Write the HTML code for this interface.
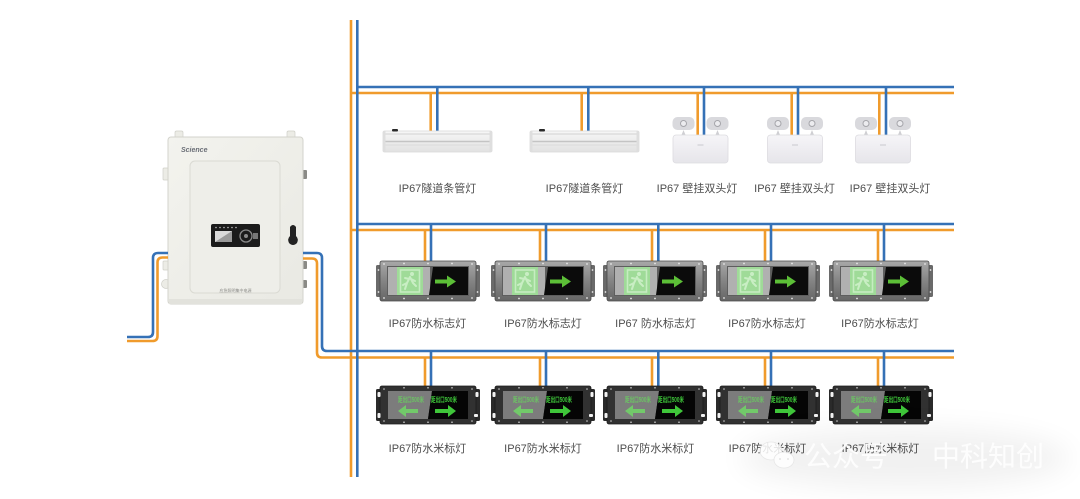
<!DOCTYPE html>
<html><head><meta charset="utf-8">
<style>
html,body{margin:0;padding:0;background:#fff;}
svg{display:block;}
text{font-family:"Liberation Sans","Noto Sans CJK SC",sans-serif;}
</style></head><body>
<svg width="1080" height="499" viewBox="0 0 1080 499" xmlns="http://www.w3.org/2000/svg">
<defs>
 <linearGradient id="metal" x1="0" y1="0" x2="0" y2="1">
  <stop offset="0" stop-color="#a8a8a8"/><stop offset=".5" stop-color="#848484"/><stop offset="1" stop-color="#666"/>
 </linearGradient>
 <linearGradient id="tubeG" x1="0" y1="0" x2="0" y2="1">
  <stop offset="0" stop-color="#f7f7f7"/><stop offset=".5" stop-color="#ececec"/><stop offset="1" stop-color="#e2e2e2"/>
 </linearGradient>
 <linearGradient id="boxG" x1="0" y1="0" x2="0" y2="1">
  <stop offset="0" stop-color="#f6f5f8"/><stop offset="1" stop-color="#e6e5ea"/>
 </linearGradient>
 <linearGradient id="cabG" x1="0" y1="0" x2="1" y2="1">
  <stop offset="0" stop-color="#f3f3ee"/><stop offset="1" stop-color="#e9e9e3"/>
 </linearGradient>
 <filter id="blur" x="-50%" y="-50%" width="200%" height="200%"><feGaussianBlur stdDeviation="14"/></filter>

 <g id="exA">
  <rect x="0" y="4" width="8" height="32" rx="1.5" fill="#6a6a6a"/>
  <rect x="96" y="4" width="8" height="32" rx="1.5" fill="#6a6a6a"/>
  <rect x="4" y="0" width="96" height="40" rx="2" fill="url(#metal)" stroke="#4a4a4a" stroke-width=".8"/>
  <rect x="11" y="5" width="82" height="30" fill="#5e5e5e"/>
  <rect x="12" y="6" width="42" height="28" fill="#b0b0b0"/>
  <rect x="21" y="6" width="26" height="28" fill="#9fdb98"/>
  <rect x="24.5" y="9" width="19" height="22" fill="none" stroke="#c6ecc1" stroke-width="1.6"/>
  <circle cx="36" cy="13" r="2" fill="#c9eec4"/>
  <path d="M34 16 L31 22 L27 24 M34 16 L37 22 L40 25 M33 18 L29 17 M35 18 L39 20 M31 22 L29 28" stroke="#c9eec4" stroke-width="2" fill="none" stroke-linecap="round"/>
  <polygon points="57,6 92,6 92,34 53,34" fill="#0b0b0b"/>
  <polygon points="59,18.5 71,18.5 71,14.5 80,20.5 71,26.5 71,22.5 59,22.5" fill="#5cbf37"/>
  <g fill="#e8e8e8">
   <circle cx="8" cy="3" r=".9"/><circle cx="8" cy="37" r=".9"/><circle cx="96" cy="3" r=".9"/><circle cx="96" cy="37" r=".9"/>
   <circle cx="28" cy="2.5" r=".9"/><circle cx="52" cy="2.5" r=".9"/><circle cx="76" cy="2.5" r=".9"/>
   <circle cx="28" cy="37.5" r=".9"/><circle cx="52" cy="37.5" r=".9"/><circle cx="76" cy="37.5" r=".9"/>
   <circle cx="2.5" cy="9" r=".9"/><circle cx="2.5" cy="31" r=".9"/><circle cx="101.5" cy="9" r=".9"/><circle cx="101.5" cy="31" r=".9"/>
  </g>
 </g>

 <g id="exB">
  <rect x="0" y="3" width="8" height="32" rx="1.5" fill="#2a2a2a"/>
  <rect x="96" y="3" width="8" height="32" rx="1.5" fill="#2a2a2a"/>
  <rect x="4" y="0" width="96" height="38" rx="2" fill="#313131" stroke="#1c1c1c" stroke-width=".8"/>
  <polygon points="12,5 56,5 52,33 12,33" fill="#7c7c7c"/>
  <polygon points="56,5 92,5 92,33 52,33" fill="#050505"/>
  <polygon points="22,25 30,19 30,23 42,23 42,27 30,27 30,31" fill="#72c96a"/>
  <polygon points="80,25 72,19 72,23 59,23 59,27 72,27 72,31" fill="#3fc63a"/>
  <g fill="#f2f2f2">
   <rect x="1.5" y="6" width="3" height="5" rx="1"/><rect x="1.5" y="27" width="3" height="5" rx="1"/>
   <rect x="99.5" y="6" width="3" height="5" rx="1"/><rect x="98" y="28" width="4" height="3" rx="1"/>
  </g>
  <g fill="#cfcfcf">
   <circle cx="28" cy="1.8" r=".8"/><circle cx="52" cy="1.8" r=".8"/><circle cx="76" cy="1.8" r=".8"/>
   <circle cx="28" cy="36.2" r=".8"/><circle cx="52" cy="36.2" r=".8"/><circle cx="76" cy="36.2" r=".8"/>
   <circle cx="8" cy="3" r=".8"/><circle cx="96" cy="3" r=".8"/><circle cx="8" cy="35" r=".8"/><circle cx="96" cy="35" r=".8"/>
  </g>
 </g>

 <g id="tubeL">
  <rect x="0" y="1" width="109" height="21" rx="1.5" fill="url(#tubeG)" stroke="#d9d9d9" stroke-width=".8"/>
  <line x1="1" y1="4" x2="108" y2="4" stroke="#d2d2d2" stroke-width="1"/>
  <line x1="1" y1="11.5" x2="108" y2="11.5" stroke="#c4c4c4" stroke-width="1.4"/>
  <line x1="1" y1="15" x2="108" y2="15" stroke="#dadada" stroke-width="1"/>
  <rect x="0" y="1" width="2.5" height="21" fill="#dedede"/>
  <rect x="106.5" y="1" width="2.5" height="21" fill="#dedede"/>
  <rect x="9" y="-1" width="6" height="2.5" rx="1" fill="#2a2a2a"/>
 </g>

 <g id="wallL">
  <rect x="0" y="0" width="22" height="13" rx="5" fill="#d9d9dd"/>
  <circle cx="11" cy="6.5" r="3" fill="#ececef" stroke="#a5a5aa" stroke-width="1"/>
  <rect x="34" y="0" width="22" height="13" rx="5" fill="#d9d9dd"/>
  <circle cx="45" cy="6.5" r="3" fill="#ececef" stroke="#a5a5aa" stroke-width="1"/>
  <polygon points="9,18 11,13 13,18" fill="#cfcfd3"/>
  <polygon points="43,18 45,13 47,18" fill="#cfcfd3"/>
  <rect x="0.5" y="18" width="55" height="28" rx="3" fill="url(#boxG)" stroke="#dcdbe0" stroke-width=".8"/>
  <line x1="25" y1="28" x2="31" y2="28" stroke="#c9c8ce" stroke-width="1"/>
 </g>
</defs>

<!-- ========== Cabinet ========== -->
<g>
 <rect x="175" y="131" width="8" height="8" rx="1.5" fill="#ecece6" stroke="#cfcfc8" stroke-width=".7"/>
 <rect x="287" y="131" width="8" height="8" rx="1.5" fill="#ecece6" stroke="#cfcfc8" stroke-width=".7"/>
 <rect x="163" y="168" width="6" height="12" rx="1" fill="#ecece6" stroke="#cfcfc8" stroke-width=".7"/>
 <rect x="163" y="261" width="6" height="9" rx="1" fill="#ecece6" stroke="#cfcfc8" stroke-width=".7"/>
 <circle cx="166" cy="284" r="4.5" fill="#ecece6" stroke="#cfcfc8" stroke-width=".7"/>
 <rect x="302" y="170" width="5" height="9" rx="1" fill="#8a8a86"/>
 <rect x="302" y="261" width="5" height="8" rx="1" fill="#8a8a86"/>
 <rect x="302" y="280" width="5" height="8" rx="1" fill="#8a8a86"/>
 <rect x="168" y="137" width="135" height="167" rx="3" fill="url(#cabG)" stroke="#d3d3cc" stroke-width="1"/>
 <rect x="169" y="299" width="133" height="5" fill="#e2e2dc"/>
 <rect x="190" y="161" width="90" height="132" rx="5" fill="#eeeee9" stroke="#dadad3" stroke-width="1"/>
 <text x="181" y="152" font-size="7" font-style="italic" font-weight="bold" fill="#6a6e76" font-family="Liberation Serif, serif">Science</text>
 <rect x="211" y="224" width="49" height="23" rx="2" fill="#1b1b1b"/>
 <rect x="215" y="231" width="17" height="11" fill="#d9d9d9"/>
 <polygon points="215,242 232,231 232,242" fill="#9a9a9a"/>
 <g fill="#bdbdbd"><circle cx="216" cy="227.5" r=".8"/><circle cx="220" cy="227.5" r=".8"/><circle cx="224" cy="227.5" r=".8"/><circle cx="228" cy="227.5" r=".8"/><circle cx="232" cy="227.5" r=".8"/><circle cx="236" cy="227.5" r=".8"/></g>
 <circle cx="246" cy="236" r="6" fill="none" stroke="#8a8a8a" stroke-width="1.3"/>
 <circle cx="246" cy="236" r="2" fill="#8a8a8a"/>
 <rect x="253" y="233" width="5" height="6" fill="#777"/>
 <path d="M290 227 Q293 223 296 227 L296 236 Q299 239 297 243 Q293 247 289 243 Q287 239 290 236 Z" fill="#222"/>
 <text x="235.5" y="292" font-size="4" fill="#8a8a86" text-anchor="middle">应急照明集中电源</text>
</g>

<!-- ========== Wires: orange ========== -->
<g fill="none" stroke="#f09b2c" stroke-width="2.6" stroke-linejoin="round">
 <path d="M168 257.5 H162.5 Q157.5 257.5 157.5 262.5 V336 Q157.5 341 152.5 341 H127"/>
 <path d="M303 258.5 H312 Q317 258.5 317 263.5 V352.5 Q317 357.5 322 357.5 H954"/>
 <line x1="351" y1="20" x2="351" y2="477"/>
 <line x1="351" y1="93" x2="954" y2="93"/>
 <line x1="351" y1="230" x2="954" y2="230"/>
 <line x1="430.7" y1="93" x2="430.7" y2="131"/>
 <line x1="581.7" y1="93" x2="581.7" y2="131"/>
 <line x1="697.7" y1="93" x2="697.7" y2="135"/>
 <line x1="791.7" y1="93" x2="791.7" y2="135"/>
 <line x1="879.3" y1="93" x2="879.3" y2="135"/>
 <line x1="425" y1="230" x2="425" y2="261"/>
 <line x1="540" y1="230" x2="540" y2="261"/>
 <line x1="652" y1="230" x2="652" y2="261"/>
 <line x1="765" y1="230" x2="765" y2="261"/>
 <line x1="878" y1="230" x2="878" y2="261"/>
 <line x1="425" y1="357.5" x2="425" y2="386"/>
 <line x1="540" y1="357.5" x2="540" y2="386"/>
 <line x1="652" y1="357.5" x2="652" y2="386"/>
 <line x1="765" y1="357.5" x2="765" y2="386"/>
 <line x1="878" y1="357.5" x2="878" y2="386"/>
</g>

<!-- ========== Wires: blue ========== -->
<g fill="none" stroke="#3571b6" stroke-width="2.6" stroke-linejoin="round">
 <path d="M168 253 H158 Q153 253 153 258 V332 Q153 337 148 337 H127"/>
 <path d="M303 253 H317 Q322 253 322 258 V346 Q322 351 327 351 H954"/>
 <line x1="357.3" y1="20" x2="357.3" y2="477"/>
 <line x1="357.3" y1="87" x2="954" y2="87"/>
 <line x1="357.3" y1="224" x2="954" y2="224"/>
 <line x1="437.3" y1="87" x2="437.3" y2="131"/>
 <line x1="588.3" y1="87" x2="588.3" y2="131"/>
 <line x1="704" y1="87" x2="704" y2="135"/>
 <line x1="798" y1="87" x2="798" y2="135"/>
 <line x1="886" y1="87" x2="886" y2="135"/>
 <line x1="431" y1="224" x2="431" y2="261"/>
 <line x1="546" y1="224" x2="546" y2="261"/>
 <line x1="658.3" y1="224" x2="658.3" y2="261"/>
 <line x1="771" y1="224" x2="771" y2="261"/>
 <line x1="884" y1="224" x2="884" y2="261"/>
 <line x1="431" y1="351" x2="431" y2="386"/>
 <line x1="546" y1="351" x2="546" y2="386"/>
 <line x1="658.3" y1="351" x2="658.3" y2="386"/>
 <line x1="771" y1="351" x2="771" y2="386"/>
 <line x1="884" y1="351" x2="884" y2="386"/>
</g>

<!-- ========== Row 1 lamps ========== -->
<use href="#tubeL" x="383" y="130"/>
<use href="#tubeL" x="530" y="130"/>
<use href="#wallL" x="672.5" y="117"/>
<use href="#wallL" x="767" y="117"/>
<use href="#wallL" x="855" y="117"/>

<g font-size="11" fill="#4d4d4d" text-anchor="middle">
 <text x="437.5" y="192">IP67隧道条管灯</text>
 <text x="584.5" y="192">IP67隧道条管灯</text>
 <text x="697" y="192">IP67 壁挂双头灯</text>
 <text x="794.5" y="192">IP67 壁挂双头灯</text>
 <text x="890" y="192">IP67 壁挂双头灯</text>
</g>

<!-- ========== Row 2 exit signs ========== -->
<use href="#exA" x="376" y="261"/>
<use href="#exA" x="491" y="261"/>
<use href="#exA" x="603" y="261"/>
<use href="#exA" x="716" y="261"/>
<use href="#exA" x="829" y="261"/>
<g font-size="11" fill="#4d4d4d" text-anchor="middle">
 <text x="427.5" y="327">IP67防水标志灯</text>
 <text x="543" y="327">IP67防水标志灯</text>
 <text x="655.5" y="327">IP67 防水标志灯</text>
 <text x="767" y="327">IP67防水标志灯</text>
 <text x="880" y="327">IP67防水标志灯</text>
</g>

<!-- ========== Row 3 distance signs ========== -->
<use href="#exB" x="376" y="386"/>
<use href="#exB" x="491" y="386"/>
<use href="#exB" x="603" y="386"/>
<use href="#exB" x="716" y="386"/>
<use href="#exB" x="829" y="386"/>
<g font-size="7" font-weight="bold">
 <text x="398" y="402" fill="#6cc364" textLength="26" lengthAdjust="spacingAndGlyphs">距出口500米</text>
 <text x="431" y="402" fill="#3ec83a" textLength="26" lengthAdjust="spacingAndGlyphs">距出口500米</text>
 <text x="513" y="402" fill="#6cc364" textLength="26" lengthAdjust="spacingAndGlyphs">距出口500米</text>
 <text x="546" y="402" fill="#3ec83a" textLength="26" lengthAdjust="spacingAndGlyphs">距出口500米</text>
 <text x="625" y="402" fill="#6cc364" textLength="26" lengthAdjust="spacingAndGlyphs">距出口500米</text>
 <text x="658" y="402" fill="#3ec83a" textLength="26" lengthAdjust="spacingAndGlyphs">距出口500米</text>
 <text x="738" y="402" fill="#6cc364" textLength="26" lengthAdjust="spacingAndGlyphs">距出口500米</text>
 <text x="771" y="402" fill="#3ec83a" textLength="26" lengthAdjust="spacingAndGlyphs">距出口500米</text>
 <text x="851" y="402" fill="#6cc364" textLength="26" lengthAdjust="spacingAndGlyphs">距出口500米</text>
 <text x="884" y="402" fill="#3ec83a" textLength="26" lengthAdjust="spacingAndGlyphs">距出口500米</text>
</g>
<g font-size="11" fill="#4d4d4d" text-anchor="middle">
 <text x="427.5" y="452">IP67防水米标灯</text>
 <text x="543" y="452">IP67防水米标灯</text>
 <text x="655.5" y="452">IP67防水米标灯</text>
 <text x="767.5" y="452">IP67防水米标灯</text>
 <text x="880.5" y="452">IP67防水米标灯</text>
</g>

<!-- ========== Watermark ========== -->
<ellipse cx="905" cy="458" rx="165" ry="30" fill="#000" opacity=".055" filter="url(#blur)"/>
<g opacity=".85">
 <ellipse cx="771" cy="451" rx="11" ry="9" fill="#fff" stroke="#e4e4e4" stroke-width=".8"/>
 <ellipse cx="784" cy="460" rx="10" ry="8" fill="#fff" stroke="#e4e4e4" stroke-width=".8"/>
 <circle cx="780" cy="459" r="1" fill="#e4e4e4"/><circle cx="788" cy="459" r="1" fill="#e4e4e4"/>
</g>
<g font-size="28" fill="#ffffff" opacity=".9">
 <text x="804" y="466">公众号</text>
 <text x="932" y="466">中科知创</text>
</g>
</svg>
</body></html>
